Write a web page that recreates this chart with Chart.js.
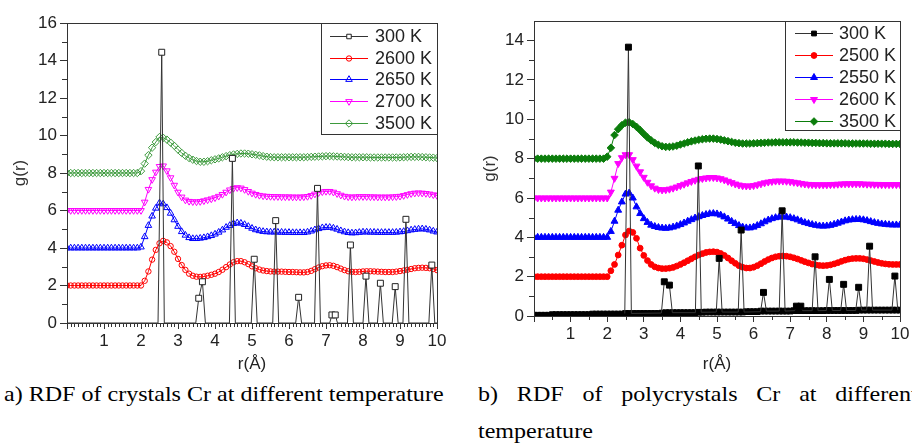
<!DOCTYPE html>
<html>
<head>
<meta charset="utf-8">
<script src="https://cdn.jsdelivr.net/npm/chart.js@4.4.1/dist/chart.umd.min.js"></script>
<style>
  html, body { margin: 0; padding: 0; background: #fff; }
  body { width: 912px; height: 448px; overflow: hidden; position: relative; }
  canvas { position: absolute; top: 0; }
  #chartA { left: 0; }
  #chartB { left: 456px; }
  .cap { position: absolute; top: 376px; font-family: 'Liberation Serif', 'Times New Roman', serif; font-size: 21px; line-height: 37px; color: #000; transform: scaleX(1.145); transform-origin: 0 0; }
  #capA { left: 4px; white-space: nowrap; }
  #capB { left: 478px; width: 384px; text-align: justify; }
</style>
</head>
<body>
<canvas id="chartA" width="456" height="375"></canvas>
<canvas id="chartB" width="456" height="375"></canvas>
<div class="cap" id="capA">a) RDF of crystals Cr at different temperature</div>
<div class="cap" id="capB">b) RDF of polycrystals Cr at different temperature</div>
<script>
// r grid (Å) for the liquid curves, 0 .. 10 step 0.1
const r = Array.from({length: 101}, (_, i) => +(i / 10).toFixed(1));

const xTicks = [0, 1, 2, 3, 4, 5, 6, 7, 8, 9, 10];
const yTicksA = [0, 2, 4, 6, 8, 10, 12, 14, 16];
const yTicksB = [0, 2, 4, 6, 8, 10, 12, 14];

// ---- a) crystals ----
const labelsA = ['300 K', '2600 K', '2650 K', '2700 K', '3500 K'];

const spikeA_r = [0, 2.46, 2.56, 2.63, 3.48, 3.56, 3.66, 3.74, 4.39, 4.47, 4.55, 4.98, 5.06, 5.14,
  5.56, 5.64, 5.72, 6.18, 6.26, 6.34, 6.69, 6.77, 6.85, 7.1, 7.16, 7.25, 7.31, 7.58, 7.66, 7.74,
  8.0, 8.08, 8.16, 8.39, 8.47, 8.55, 8.79, 8.87, 8.95, 9.08, 9.16, 9.24, 9.78, 9.86, 9.94, 10];
const spikeA_g = [0, 0, 14.44, 0, 0, 1.32, 2.2, 0, 0, 8.78, 0, 0, 3.4, 0,
  0, 5.46, 0, 0, 1.37, 0, 0, 7.18, 0, 0, 0.43, 0.43, 0, 0, 4.16, 0,
  0, 2.5, 0, 0, 2.12, 0, 0, 1.94, 0, 0, 5.53, 0, 0, 3.09, 0, 0];

const gA2600 = [
  2.0, 2.0, 2.0, 2.0, 2.0, 2.0, 2.0, 2.0, 2.0, 2.0,
  2.0, 2.0, 2.0, 2.0, 2.0, 2.0, 2.0, 2.0, 2.0, 2.0,
  2.0, 2.25, 2.75, 3.38, 3.9, 4.25, 4.38, 4.3, 4.1, 3.8,
  3.42, 3.09, 2.83, 2.63, 2.52, 2.47, 2.46, 2.48, 2.52, 2.57,
  2.63, 2.72, 2.84, 2.98, 3.12, 3.24, 3.3, 3.3, 3.24, 3.14,
  3.02, 2.92, 2.85, 2.8, 2.77, 2.75, 2.74, 2.74, 2.74, 2.73,
  2.72, 2.72, 2.71, 2.7, 2.7, 2.72, 2.78, 2.87, 2.96, 3.03,
  3.07, 3.08, 3.05, 2.98, 2.9, 2.82, 2.76, 2.73, 2.72, 2.73,
  2.75, 2.76, 2.76, 2.75, 2.74, 2.73, 2.72, 2.72, 2.72, 2.74,
  2.77, 2.8, 2.84, 2.88, 2.92, 2.94, 2.95, 2.94, 2.92, 2.88,
  2.82];
const gA2650 = [
  4.0, 4.0, 4.0, 4.0, 4.0, 4.0, 4.0, 4.0, 4.0, 4.0,
  4.0, 4.0, 4.0, 4.0, 4.0, 4.0, 4.0, 4.0, 4.0, 4.0,
  4.05, 4.6, 5.2, 5.7, 6.12, 6.4, 6.35, 6.15, 5.85, 5.5,
  5.15, 4.87, 4.68, 4.55, 4.5, 4.5, 4.52, 4.55, 4.6, 4.66,
  4.74, 4.84, 4.96, 5.1, 5.2, 5.3, 5.34, 5.32, 5.25, 5.15,
  5.05, 4.97, 4.92, 4.88, 4.86, 4.85, 4.85, 4.84, 4.84, 4.83,
  4.83, 4.82, 4.82, 4.82, 4.82, 4.85, 4.9, 4.97, 5.03, 5.08,
  5.1, 5.1, 5.06, 5.0, 4.92, 4.86, 4.82, 4.8, 4.81, 4.83,
  4.85, 4.85, 4.84, 4.84, 4.83, 4.83, 4.83, 4.83, 4.83, 4.84,
  4.86, 4.88, 4.92, 4.96, 4.99, 5.01, 5.02, 5.0, 4.96, 4.9,
  4.85];
const gA2700 = [
  6.0, 6.0, 6.0, 6.0, 6.0, 6.0, 6.0, 6.0, 6.0, 6.0,
  6.0, 6.0, 6.0, 6.0, 6.0, 6.0, 6.0, 6.0, 6.0, 6.0,
  6.0, 6.45, 7.13, 7.65, 8.05, 8.35, 8.38, 8.12, 7.75, 7.35,
  6.98, 6.72, 6.56, 6.49, 6.47, 6.46, 6.48, 6.52, 6.57, 6.62,
  6.68, 6.76, 6.86, 6.98, 7.1, 7.18, 7.22, 7.2, 7.12, 7.02,
  6.93, 6.86, 6.81, 6.78, 6.76, 6.75, 6.74, 6.74, 6.73, 6.73,
  6.73, 6.72, 6.72, 6.72, 6.73, 6.75, 6.8, 6.88, 6.95, 7.0,
  7.02, 7.02, 6.98, 6.9, 6.82, 6.76, 6.73, 6.72, 6.73, 6.74,
  6.74, 6.74, 6.73, 6.73, 6.72, 6.72, 6.72, 6.72, 6.73, 6.74,
  6.76, 6.8, 6.85, 6.9, 6.93, 6.94, 6.93, 6.91, 6.88, 6.84,
  6.8];
const gA3500 = [
  8.0, 8.0, 8.0, 8.0, 8.0, 8.0, 8.0, 8.0, 8.0, 8.0,
  8.0, 8.0, 8.0, 8.0, 8.0, 8.0, 8.0, 8.0, 8.0, 8.0,
  8.1, 8.5, 8.95, 9.35, 9.65, 9.92, 9.88, 9.78, 9.62, 9.45,
  9.25, 9.07, 8.92, 8.8, 8.71, 8.64, 8.6, 8.6, 8.63, 8.68,
  8.73, 8.78, 8.84, 8.9, 8.95, 8.99, 9.02, 9.04, 9.04, 9.03,
  9.0, 8.97, 8.94, 8.9, 8.87, 8.85, 8.84, 8.84, 8.84, 8.84,
  8.84, 8.84, 8.84, 8.84, 8.84, 8.85, 8.86, 8.87, 8.88, 8.89,
  8.9, 8.9, 8.89, 8.88, 8.87, 8.86, 8.85, 8.84, 8.84, 8.84,
  8.84, 8.84, 8.83, 8.83, 8.83, 8.83, 8.83, 8.83, 8.83, 8.83,
  8.83, 8.84, 8.85, 8.86, 8.86, 8.86, 8.85, 8.84, 8.83, 8.82,
  8.8];

// ---- b) polycrystals ----
const labelsB = ['300 K', '2500 K', '2550 K', '2600 K', '3500 K'];

const baseB300 = [
  0.04, 0.04, 0.04, 0.04, 0.04, 0.07, 0.07, 0.07, 0.07, 0.07,
  0.07, 0.07, 0.07, 0.07, 0.07, 0.07, 0.1, 0.1, 0.1, 0.1,
  0.1, 0.1, 0.1, 0.1, 0.1, 0.13, 0.13, 0.13, 0.13, 0.13,
  0.13, 0.13, 0.13, 0.13, 0.13, 0.15, 0.17, 0.17, 0.17, 0.17,
  0.17, 0.17, 0.17, 0.17, 0.17, 0.19, 0.19, 0.2, 0.2, 0.2,
  0.2, 0.2, 0.2, 0.2, 0.2, 0.2, 0.2, 0.2, 0.22, 0.22,
  0.22, 0.22, 0.25, 0.25, 0.25, 0.25, 0.25, 0.25, 0.25, 0.25,
  0.25, 0.27, 0.27, 0.27, 0.27, 0.27, 0.27, 0.27, 0.27, 0.27,
  0.28, 0.28, 0.28, 0.28, 0.28, 0.28, 0.28, 0.28, 0.28, 0.3,
  0.3, 0.3, 0.3, 0.3, 0.3, 0.3, 0.3, 0.3, 0.3, 0.3,
  0.3];
const spikeB_r = [2.48, 2.58, 2.66, 3.48, 3.56, 3.7, 3.78, 4.41, 4.49, 4.57, 4.98, 5.06, 5.14,
  5.58, 5.66, 5.74, 6.19, 6.27, 6.35, 6.7, 6.78, 6.86, 7.12, 7.17, 7.29, 7.34, 7.6, 7.68, 7.76,
  7.99, 8.07, 8.15, 8.38, 8.46, 8.54, 8.79, 8.87, 8.95, 9.09, 9.17, 9.25, 9.78, 9.86, 9.94];
const spikeB_g = [0.13, 13.67, 0.13, 0.15, 1.74, 1.57, 0.17, 0.17, 7.63, 0.19, 0.2, 2.93, 0.2,
  0.2, 4.37, 0.2, 0.22, 1.2, 0.25, 0.25, 5.35, 0.25, 0.27, 0.5, 0.5, 0.27, 0.27, 3.01, 0.27,
  0.28, 1.86, 0.28, 0.28, 1.61, 0.28, 0.28, 1.46, 0.3, 0.3, 3.55, 0.3, 0.3, 2.03, 0.3];

const gB2500 = [
  2.0, 2.0, 2.0, 2.0, 2.0, 2.0, 2.0, 2.0, 2.0, 2.0,
  2.0, 2.0, 2.0, 2.0, 2.0, 2.0, 2.0, 2.0, 2.0, 2.0,
  2.0, 2.3, 2.62, 3.1, 3.6, 4.12, 4.32, 4.25, 3.95, 3.45,
  3.08, 2.82, 2.62, 2.5, 2.44, 2.41, 2.41, 2.43, 2.47, 2.54,
  2.62, 2.71, 2.81, 2.91, 3.01, 3.1, 3.17, 3.23, 3.26, 3.27,
  3.25, 3.18, 3.08, 2.95, 2.81, 2.68, 2.56, 2.48, 2.44, 2.44,
  2.48, 2.56, 2.66, 2.77, 2.87, 2.95, 3.01, 3.04, 3.05, 3.04,
  3.01, 2.96, 2.9, 2.83, 2.76, 2.7, 2.64, 2.6, 2.57, 2.56,
  2.57, 2.6, 2.65, 2.71, 2.78, 2.84, 2.89, 2.92, 2.93, 2.93,
  2.91, 2.87, 2.82, 2.77, 2.72, 2.68, 2.65, 2.63, 2.62, 2.62,
  2.62];
const gB2550 = [
  4.0, 4.0, 4.0, 4.0, 4.0, 4.0, 4.0, 4.0, 4.0, 4.0,
  4.0, 4.0, 4.0, 4.0, 4.0, 4.0, 4.0, 4.0, 4.0, 4.0,
  4.0, 4.3, 4.82, 5.38, 5.8, 6.2, 6.25, 6.0, 5.55, 5.21,
  4.95, 4.76, 4.62, 4.55, 4.5, 4.47, 4.46, 4.48, 4.52, 4.58,
  4.65, 4.73, 4.82, 4.9, 4.98, 5.05, 5.11, 5.16, 5.2, 5.21,
  5.19, 5.13, 5.04, 4.93, 4.81, 4.7, 4.6, 4.52, 4.48, 4.48,
  4.52, 4.6, 4.69, 4.79, 4.88, 4.95, 5.0, 5.03, 5.04, 5.03,
  5.0, 4.95, 4.89, 4.82, 4.75, 4.7, 4.65, 4.61, 4.58, 4.57,
  4.58, 4.61, 4.66, 4.72, 4.78, 4.84, 4.88, 4.9, 4.91, 4.91,
  4.89, 4.85, 4.8, 4.75, 4.71, 4.68, 4.66, 4.64, 4.63, 4.63,
  4.63];
const gB2600 = [
  6.0, 6.0, 6.0, 6.0, 6.0, 6.0, 6.0, 6.0, 6.0, 6.0,
  6.0, 6.0, 6.0, 6.0, 6.0, 6.0, 6.0, 6.0, 6.0, 6.0,
  6.0, 6.3, 7.0, 7.75, 8.05, 8.2, 8.2, 7.95, 7.62, 7.33,
  7.05, 6.8, 6.62, 6.5, 6.43, 6.41, 6.42, 6.45, 6.5, 6.56,
  6.63, 6.7, 6.77, 6.84, 6.9, 6.95, 6.99, 7.02, 7.04, 7.04,
  7.02, 6.98, 6.92, 6.85, 6.78, 6.71, 6.66, 6.62, 6.61, 6.61,
  6.63, 6.67, 6.72, 6.77, 6.81, 6.84, 6.86, 6.86, 6.86, 6.85,
  6.83, 6.8, 6.77, 6.74, 6.71, 6.69, 6.68, 6.67, 6.67, 6.67,
  6.67, 6.68, 6.69, 6.7, 6.71, 6.72, 6.72, 6.72, 6.72, 6.72,
  6.71, 6.7, 6.7, 6.69, 6.69, 6.68, 6.68, 6.68, 6.68, 6.68,
  6.68];
const gB3500 = [
  8.0, 8.0, 8.0, 8.0, 8.0, 8.0, 8.0, 8.0, 8.0, 8.0,
  8.0, 8.0, 8.0, 8.0, 8.0, 8.0, 8.0, 8.0, 8.0, 8.0,
  8.1, 8.55, 9.2, 9.5, 9.7, 9.83, 9.85, 9.76, 9.62, 9.45,
  9.26, 9.08, 8.93, 8.8, 8.7, 8.63, 8.6, 8.6, 8.62, 8.66,
  8.72, 8.77, 8.83, 8.88, 8.92, 8.96, 8.99, 9.01, 9.02, 9.02,
  9.0, 8.97, 8.93, 8.89, 8.85, 8.81, 8.79, 8.77, 8.77, 8.77,
  8.78, 8.79, 8.8, 8.81, 8.82, 8.82, 8.83, 8.83, 8.83, 8.83,
  8.83, 8.83, 8.82, 8.82, 8.81, 8.81, 8.8, 8.8, 8.79, 8.79,
  8.78, 8.78, 8.78, 8.78, 8.78, 8.78, 8.77, 8.77, 8.77, 8.77,
  8.77, 8.77, 8.76, 8.76, 8.76, 8.76, 8.76, 8.75, 8.75, 8.75,
  8.75];

// helpers to turn the arrays into {x, y} points
const onGrid = gs => gs.map((g, i) => ({x: r[i], y: g}));
const pairs = (xs, ys) => xs.map((x, i) => ({x, y: ys[i]}));
const peakOnly = rad => c => (c.raw && c.raw.y > 0.4) ? rad : 0;

const sans = "'Liberation Sans', Arial, sans-serif";
const hollow = 'rgba(255,255,255,0)';

// box frame + minor ticks
const framePlugin = {
  id: 'frame',
  afterDatasetsDraw(chart, args, o) {
    const {ctx, chartArea: a, scales: {x, y}} = chart;
    ctx.save();
    ctx.strokeStyle = '#333';
    ctx.lineWidth = 1;
    ctx.strokeRect(Math.round(a.left) + 0.5, Math.round(a.top) + 0.5,
      Math.round(a.right - a.left), Math.round(a.bottom - a.top));
    ctx.beginPath();
    const nx = Math.round((x.max - x.min) / o.xMinor);
    for (let i = 1; i < nx; i++) {
      const v = x.min + i * o.xMinor;
      if (Math.abs(v - Math.round(v)) < 1e-6) continue;
      const px = Math.round(x.getPixelForValue(v)) + 0.5;
      ctx.moveTo(px, a.bottom);
      ctx.lineTo(px, a.bottom + o.minorLen);
    }
    for (let v = 1; v < y.max; v += 2) {
      const py = Math.round(y.getPixelForValue(v)) + 0.5;
      ctx.moveTo(a.left, py);
      ctx.lineTo(a.left - o.minorLen - 1, py);
    }
    ctx.stroke();
    ctx.restore();
  }
};

// legend drawn as a boxed panel in the top right of the plot
const boxLegend = {
  id: 'boxLegend',
  afterDraw(chart, args, o) {
    const {ctx, chartArea: a} = chart;
    const x0 = Math.round(a.right - o.width), y0 = Math.round(a.top);
    ctx.save();
    ctx.fillStyle = '#fff';
    ctx.fillRect(x0, y0, o.width, o.height);
    ctx.strokeStyle = '#333';
    ctx.lineWidth = 1;
    ctx.strokeRect(x0 + 0.5, y0 + 0.5, o.width, o.height);
    ctx.font = '18px ' + sans;
    ctx.textBaseline = 'middle';
    chart.data.datasets.filter(d => d.label).forEach((d, i) => {
      const yy = Math.round(y0 + o.firstRow + i * o.rowGap) + 0.5;
      ctx.strokeStyle = d.borderColor;
      ctx.lineWidth = 1;
      ctx.beginPath();
      ctx.moveTo(x0 + o.lineFrom, yy);
      ctx.lineTo(x0 + o.lineTo, yy);
      ctx.stroke();
      ctx.fillStyle = d.pointBackgroundColor;
      ctx.strokeStyle = d.pointBorderColor;
      Chart.helpers.drawPoint(ctx, {
        pointStyle: d.pointStyle, radius: d.legendRadius,
        rotation: d.pointRotation || 0, borderWidth: 1
      }, x0 + (o.lineFrom + o.lineTo) / 2, yy);
      ctx.fillStyle = '#222';
      ctx.fillText(d.label, x0 + o.textX, yy + 1);
    });
    ctx.restore();
  }
};

function makeChart(id, datasets, c) {
  const font = {family: sans, size: 17};
  return new Chart(document.getElementById(id), {
    type: 'line',
    data: {datasets},
    options: {
      responsive: false,
      animation: false,
      devicePixelRatio: 1,
      events: [],
      layout: {padding: {top: c.top, right: c.right, left: 0, bottom: 0}},
      scales: {
        x: {
          type: 'linear', min: 0, max: 10,
          afterFit: s => { s.height = c.xH; },
          afterBuildTicks: s => { s.ticks = xTicks.map(v => ({value: v})); },
          ticks: {font, color: '#222', padding: 2, maxRotation: 0, autoSkip: false,
                  callback: v => v === 0 ? '' : v},
          grid: {drawOnChartArea: false, tickLength: 6, color: '#333'},
          border: {color: '#333'},
          title: {display: true, text: 'r(Å)', font, color: '#222', padding: 0}
        },
        y: {
          type: 'linear', min: 0, max: c.yMax,
          afterFit: s => { s.width = c.yW; },
          afterBuildTicks: s => { s.ticks = c.yTicks.map(v => ({value: v})); },
          ticks: {font, color: '#222', padding: 3, autoSkip: false},
          grid: {drawOnChartArea: false, tickLength: 7, color: '#333'},
          border: {color: '#333'},
          title: {display: true, text: 'g(r)', font, color: '#333', padding: {top: c.titlePad, bottom: 0}}
        }
      },
      plugins: {
        legend: {display: false},
        tooltip: {enabled: false},
        frame: {xMinor: c.xMinor, minorLen: 4},
        boxLegend: c.legend
      }
    },
    plugins: [framePlugin, boxLegend]
  });
}

const lineDs = (label, data, color, style, rad, fill, extra) => Object.assign({
  label, data, borderColor: color, borderWidth: 1,
  pointStyle: style, pointRadius: rad, legendRadius: rad,
  pointBackgroundColor: fill, pointBorderColor: color, pointBorderWidth: 1
}, extra || {});

const green = '#3d9a3d';
makeChart('chartA', [
  lineDs(labelsA[0], pairs(spikeA_r, spikeA_g), '#333', 'rect', peakOnly(4.2), '#fff',
         {legendRadius: 3.2, pointBorderColor: '#222'}),
  lineDs(labelsA[1], onGrid(gA2600), '#ff0000', 'circle', 2.7, hollow),
  lineDs(labelsA[2], onGrid(gA2650), '#0000ff', 'triangle', 3.8, hollow),
  lineDs(labelsA[3], onGrid(gA2700), '#ff00ff', 'triangle', 3.8, hollow, {pointRotation: 180}),
  lineDs(labelsA[4], onGrid(gA3500), green, 'rectRot', 3.7, hollow)
], {top: 23, right: 19, xH: 52, yW: 67, yMax: 16, yTicks: yTicksA, xMinor: 0.1, titlePad: 10,
    legend: {width: 116, height: 111, firstRow: 13, rowGap: 21.7, lineFrom: 9, lineTo: 47, textX: 54}});

const dkGreen = '#0b7d0b';
makeChart('chartB', [
  lineDs(labelsB[0], pairs(spikeB_r, spikeB_g), '#333', 'rect', peakOnly(4.2), '#000',
         {legendRadius: 3.4, pointBorderColor: '#000'}),
  lineDs(labelsB[1], onGrid(gB2500), '#ff0000', 'circle', 2.9, '#ff0000'),
  lineDs(labelsB[2], onGrid(gB2550), '#0000ff', 'triangle', 4, '#0000ff'),
  lineDs(labelsB[3], onGrid(gB2600), '#ff00ff', 'triangle', 4, '#ff00ff', {pointRotation: 180}),
  lineDs(labelsB[4], onGrid(gB3500), dkGreen, 'rectRot', 3.8, dkGreen),
  lineDs(null, onGrid(baseB300), '#000', 'rect', 4, '#000')
], {top: 21, right: 12, xH: 59, yW: 78, yMax: 15, yTicks: yTicksB, xMinor: 0.5, titlePad: 24,
    legend: {width: 115, height: 109, firstRow: 12, rowGap: 22, lineFrom: 10, lineTo: 48, textX: 54}});
</script>
</body>
</html>
